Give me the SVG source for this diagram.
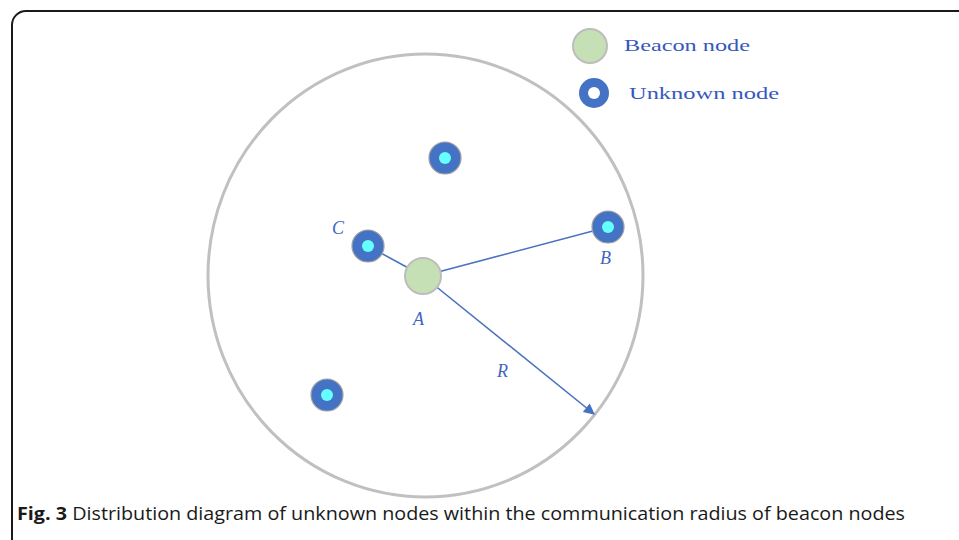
<svg xmlns="http://www.w3.org/2000/svg" width="959" height="540" viewBox="0 0 959 540">
<defs>
<style>
.lbl{font-family:"Liberation Serif",serif;font-style:italic;fill:#3f66c4;font-size:18px}
.leg{font-family:"Liberation Serif",serif;fill:#3558bd;font-size:17px}
.unk{fill:#4472c4;stroke:#a0a0a0;stroke-width:1.2}
.core{fill:#66ffff}
.bea{fill:#c5e0b4;stroke:#bdbdbd;stroke-width:2}
.edge{stroke:#4a72c0;stroke-width:1.6;fill:none}
</style>
<marker id="arr" viewBox="0 0 10 10" refX="9" refY="5" markerWidth="13" markerHeight="11" orient="auto" markerUnits="userSpaceOnUse">
<path d="M0,0 L10,5 L0,10 z" fill="#4472c4"/>
</marker>
</defs>
<rect width="959" height="540" fill="#ffffff"/>
<rect x="12" y="11" width="990" height="600" rx="14" fill="none" stroke="#1a1a1a" stroke-width="2"/>
<ellipse cx="425.5" cy="275.5" rx="217.5" ry="221.5" fill="none" stroke="#c0c0c0" stroke-width="3"/>
<g id="connectors">
<line class="edge" x1="368" y1="246" x2="423" y2="276"/>
<line class="edge" x1="423" y1="276" x2="608" y2="227"/>
<line class="edge" x1="423" y1="276" x2="594" y2="414" marker-end="url(#arr)"/>
</g>
<g id="legend-beacon">
<circle class="bea" cx="590" cy="46" r="17"/>
<text class="leg" x="624" y="51" textLength="126" lengthAdjust="spacingAndGlyphs">Beacon node</text>
</g>
<g id="legend-unknown">
<circle cx="594" cy="93" r="15" fill="#4472c4"/>
<circle cx="594" cy="93" r="6" fill="#ffffff"/>
<text class="leg" x="629" y="99" textLength="150" lengthAdjust="spacingAndGlyphs">Unknown node</text>
</g>
<g id="node-top">
<circle class="unk" cx="445" cy="158" r="16"/>
<circle class="core" cx="445" cy="158" r="6"/>
</g>
<g id="node-C">
<circle class="unk" cx="368" cy="246" r="16"/>
<circle class="core" cx="368" cy="246" r="6"/>
<text class="lbl" x="332" y="234">C</text>
</g>
<g id="node-B">
<circle class="unk" cx="608" cy="227" r="16"/>
<circle class="core" cx="608" cy="227" r="6"/>
<text class="lbl" x="600" y="264">B</text>
</g>
<g id="node-lower">
<circle class="unk" cx="327" cy="395" r="16"/>
<circle class="core" cx="327" cy="395" r="6"/>
</g>
<g id="node-A">
<circle class="bea" cx="423" cy="276" r="18"/>
<text class="lbl" x="413" y="325">A</text>
</g>
<text class="lbl" x="497" y="377">R</text>
<text x="17" y="520" font-family="'Open Sans',sans-serif" font-size="18" fill="#1a1a1a" textLength="888" lengthAdjust="spacingAndGlyphs"><tspan font-weight="bold">Fig. 3</tspan> Distribution diagram of unknown nodes within the communication radius of beacon nodes</text>
</svg>
